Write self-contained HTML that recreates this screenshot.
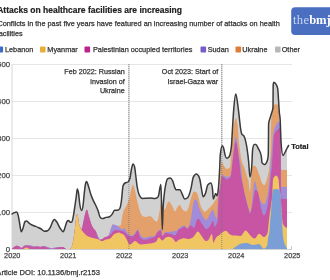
<!DOCTYPE html>
<html><head><meta charset="utf-8"><style>
html,body{margin:0;padding:0;background:#fff;width:330px;height:280px;overflow:hidden}
svg{display:block;will-change:transform}
</style></head><body>
<svg width="330" height="280" viewBox="0 0 330 280">
<line x1="12" y1="212.5" x2="292" y2="212.5" stroke="#e6e6e6" stroke-width="1"/>
<line x1="12" y1="175.5" x2="292" y2="175.5" stroke="#e6e6e6" stroke-width="1"/>
<line x1="12" y1="138.5" x2="292" y2="138.5" stroke="#e6e6e6" stroke-width="1"/>
<line x1="12" y1="101.5" x2="292" y2="101.5" stroke="#e6e6e6" stroke-width="1"/>
<line x1="12" y1="64.5" x2="292" y2="64.5" stroke="#e6e6e6" stroke-width="1"/>
<line x1="12" y1="64" x2="12" y2="249.5" stroke="#d6d6d6" stroke-width="1"/>
<line x1="128.9" y1="64" x2="128.9" y2="249.5" stroke="#d4d4d4" stroke-width="1.2"/>
<line x1="221.8" y1="64" x2="221.8" y2="249.5" stroke="#d4d4d4" stroke-width="1.2"/>
<path d="M12.00,214.00C12.77,213.47 13.53,212.95 14.30,212.60C15.07,212.25 15.83,211.90 16.60,211.90C17.07,211.90 17.53,212.98 18.00,214.60C18.53,216.46 19.07,220.19 19.60,223.00C20.15,225.89 20.70,231.70 21.25,231.70C21.80,231.70 22.35,229.90 22.90,228.50C23.60,226.71 24.30,221.94 25.00,221.50C25.53,221.17 26.07,221.00 26.60,221.00C27.50,221.00 28.40,222.72 29.30,223.40C30.37,224.20 31.43,224.80 32.50,225.30C33.57,225.80 34.63,225.98 35.70,226.40C36.47,226.70 37.23,227.05 38.00,227.40C39.07,227.89 40.13,228.37 41.20,229.00C42.27,229.63 43.33,231.20 44.40,231.20C45.47,231.20 46.53,231.03 47.60,230.70C48.50,230.42 49.40,229.11 50.30,227.40C51.03,226.01 51.77,223.39 52.50,222.00C53.10,220.86 53.70,219.40 54.30,219.40C55.13,219.40 55.97,220.83 56.80,222.00C57.87,223.50 58.93,226.38 60.00,228.00C61.07,229.62 62.13,231.70 63.20,231.70C63.90,231.70 64.60,228.41 65.30,226.50C65.87,224.95 66.43,222.26 67.00,221.50C67.50,220.83 68.00,220.50 68.50,220.50C69.10,220.50 69.70,222.30 70.30,222.30C70.83,222.30 71.37,222.13 71.90,221.80C72.43,221.47 72.97,218.27 73.50,215.40C74.03,212.53 74.57,208.22 75.10,204.60C75.47,202.11 75.83,199.70 76.20,197.10C76.57,194.50 76.93,189.00 77.30,189.00C77.70,189.00 78.10,190.70 78.50,193.00C78.97,195.68 79.43,202.14 79.90,205.00C80.47,208.48 81.03,210.40 81.60,210.40C82.10,210.40 82.60,208.58 83.10,205.00C83.50,202.14 83.90,196.56 84.30,193.00C84.63,190.03 84.97,186.90 85.30,185.00C85.70,182.72 86.10,181.50 86.50,181.50C87.20,181.50 87.90,184.63 88.60,186.70C89.30,188.77 90.00,191.79 90.70,193.90C91.43,196.11 92.17,197.88 92.90,199.60C93.83,201.79 94.77,203.28 95.70,205.30C96.43,206.89 97.17,208.39 97.90,210.30C98.70,212.38 99.50,216.49 100.30,217.40C101.00,218.20 101.70,218.60 102.40,218.60C103.60,218.60 104.80,217.72 106.00,217.40C107.20,217.08 108.40,217.17 109.60,216.70C110.53,216.34 111.47,215.17 112.40,213.90C113.13,212.91 113.87,210.30 114.60,210.30C115.53,210.30 116.47,210.30 117.40,210.30C118.13,210.30 118.87,209.83 119.60,208.90C120.20,208.14 120.80,205.22 121.40,201.00C121.93,197.25 122.47,187.60 123.00,186.00C123.67,184.00 124.33,183.44 125.00,183.00C126.00,182.33 127.00,182.67 128.00,182.00C128.67,181.56 129.33,180.67 130.00,178.00C130.57,175.73 131.13,170.43 131.70,168.00C132.13,166.14 132.57,164.00 133.00,164.00C133.53,164.00 134.07,165.00 134.60,167.00C135.00,168.50 135.40,172.93 135.80,176.00C136.27,179.58 136.73,184.09 137.20,187.00C137.90,191.37 138.60,193.47 139.30,195.00C140.37,197.33 141.43,198.50 142.50,198.50C143.67,198.50 144.83,198.38 146.00,198.30C147.33,198.21 148.67,198.00 150.00,198.00C151.63,198.00 153.27,198.50 154.90,198.50C155.70,198.50 156.50,198.23 157.30,197.70C157.73,197.41 158.17,196.97 158.60,195.50C158.97,194.26 159.33,190.80 159.70,189.00C160.10,187.03 160.50,184.40 160.90,184.40C161.13,184.40 161.37,197.48 161.60,205.00C161.83,212.52 162.07,229.50 162.30,229.50C162.53,229.50 162.77,215.20 163.00,210.00C163.40,201.08 163.80,198.77 164.20,194.70C164.77,188.93 165.33,186.25 165.90,183.60C166.43,181.10 166.97,179.30 167.50,178.90C168.40,178.23 169.30,177.90 170.20,177.90C171.00,177.90 171.80,178.98 172.60,180.70C173.37,182.35 174.13,186.14 174.90,187.80C175.27,188.59 175.63,189.70 176.00,189.70C177.30,189.70 178.60,189.70 179.90,189.70C180.70,189.70 181.50,192.80 182.30,194.40C183.07,195.93 183.83,199.10 184.60,199.10C185.67,199.10 186.73,198.57 187.80,197.50C188.83,196.47 189.87,193.01 190.90,188.90C191.70,185.71 192.50,178.75 193.30,177.10C194.33,174.97 195.37,173.90 196.40,173.90C197.20,173.90 198.00,174.70 198.80,176.30C199.20,177.10 199.60,178.26 200.00,180.00C200.50,182.18 201.00,186.19 201.50,188.90C202.03,191.79 202.57,196.70 203.10,196.70C203.87,196.70 204.63,195.49 205.40,193.60C206.20,191.63 207.00,185.93 207.80,184.90C208.83,183.57 209.87,182.90 210.90,182.90C211.43,182.90 211.97,184.90 212.50,188.90C212.77,190.90 213.03,199.10 213.30,199.10C214.10,199.10 214.90,193.60 215.70,193.60C216.20,193.60 216.70,195.90 217.20,195.90C217.47,195.90 217.73,194.09 218.00,192.00C218.53,187.82 219.07,180.55 219.60,170.00C219.83,165.38 220.07,156.31 220.30,154.30C220.97,148.57 221.63,145.70 222.30,145.70C222.73,145.70 223.17,146.64 223.60,148.00C224.10,149.57 224.60,153.41 225.10,155.10C225.63,156.90 226.17,158.20 226.70,158.20C227.50,158.20 228.30,157.70 229.10,156.70C229.87,155.74 230.63,153.27 231.40,146.40C231.73,143.41 232.07,135.36 232.40,130.00C232.83,123.03 233.27,115.04 233.70,109.60C234.40,100.81 235.10,93.90 235.80,93.90C236.47,93.90 237.13,100.15 237.80,104.90C238.30,108.46 238.80,113.09 239.30,117.40C239.70,120.84 240.10,125.25 240.50,128.00C240.90,130.75 241.30,133.10 241.70,133.90C242.47,135.43 243.23,134.67 244.00,136.20C244.53,137.27 245.07,138.67 245.60,140.90C246.13,143.13 246.67,145.88 247.20,149.60C247.70,153.08 248.20,156.91 248.70,162.20C249.10,166.43 249.50,177.00 249.90,177.00C250.53,177.00 251.17,173.23 251.80,165.70C252.07,162.53 252.33,151.73 252.60,149.90C253.13,146.23 253.67,144.40 254.20,144.40C254.73,144.40 255.27,144.40 255.80,144.40C256.60,144.40 257.40,146.68 258.20,148.30C259.23,150.40 260.27,150.93 261.30,156.20C261.53,157.39 261.77,162.24 262.00,162.60C262.87,163.93 263.73,164.60 264.60,164.60C265.57,164.60 266.53,163.07 267.50,160.00C267.77,159.15 268.03,158.00 268.30,154.00C268.37,153.00 268.43,142.04 268.50,135.00C268.53,131.48 268.57,124.16 268.60,123.90C269.13,119.70 269.67,119.49 270.20,117.60C270.60,116.18 271.00,115.12 271.40,113.70C271.93,111.81 272.47,111.60 273.00,107.40C273.05,107.01 273.10,85.88 273.15,85.40C273.37,83.33 273.58,82.30 273.80,82.30C274.60,82.30 275.40,83.07 276.20,84.60C276.70,85.56 277.20,85.93 277.70,88.60C277.97,90.02 278.23,95.67 278.50,99.60C278.77,103.53 279.03,108.89 279.30,112.20C279.60,115.92 279.90,114.80 280.20,120.00C280.33,122.31 280.47,127.54 280.60,131.00C280.77,135.32 280.93,140.81 281.10,143.00C281.73,151.33 282.37,155.50 283.00,155.50C283.73,155.50 284.47,153.76 285.20,152.00C285.80,150.56 286.40,148.53 287.00,146.50L287.00,249.5L12.00,249.5Z" fill="#d1d1d1"/>
<path d="M12.00,248.40C12.70,247.90 13.40,247.40 14.10,247.00C15.00,246.49 15.90,245.80 16.80,245.80C17.57,245.80 18.33,246.15 19.10,246.50C19.87,246.85 20.63,247.90 21.40,247.90C22.13,247.90 22.87,246.47 23.60,246.00C24.53,245.40 25.47,245.00 26.40,245.00C27.60,245.00 28.80,245.10 30.00,245.30C31.20,245.50 32.40,246.30 33.60,246.30C34.83,246.30 36.07,246.00 37.30,246.00C38.20,246.00 39.10,246.80 40.00,246.80C41.20,246.80 42.40,246.00 43.60,246.00C44.83,246.00 46.07,246.66 47.30,247.00C48.50,247.33 49.70,248.00 50.90,248.00C51.93,248.00 52.97,247.92 54.00,247.80C55.40,247.63 56.80,247.06 58.20,247.00C59.70,246.93 61.20,246.90 62.70,246.90C63.93,246.90 65.17,249.00 66.40,249.00C67.57,249.00 68.73,248.97 69.90,248.90C70.70,248.85 71.50,247.60 72.30,245.00C73.07,242.51 73.83,237.45 74.60,231.60C75.13,227.53 75.67,220.22 76.20,217.40C76.57,215.46 76.93,214.30 77.30,214.30C78.00,214.30 78.70,223.05 79.40,225.30C80.17,227.77 80.93,229.00 81.70,229.00C82.23,229.00 82.77,224.48 83.30,222.20C84.10,218.79 84.90,214.13 85.70,211.90C86.07,210.88 86.43,209.60 86.80,209.60C87.47,209.60 88.13,213.77 88.80,215.90C89.60,218.46 90.40,221.59 91.20,223.70C91.97,225.72 92.73,227.11 93.50,228.40C94.33,229.80 95.17,230.36 96.00,231.60C97.43,233.73 98.87,239.50 100.30,239.50C101.33,239.50 102.37,239.14 103.40,238.70C105.23,237.92 107.07,237.37 108.90,234.70C110.23,232.76 111.57,224.50 112.90,224.50C114.47,224.50 116.03,226.10 117.60,226.10C118.63,226.10 119.67,225.83 120.70,225.30C121.23,225.02 121.77,218.59 122.30,215.90C122.57,214.56 122.83,213.25 123.10,212.20C124.17,208.00 125.23,208.31 126.30,205.90C127.33,203.56 128.37,201.82 129.40,198.00C130.20,195.04 131.00,189.35 131.80,187.00C132.17,185.92 132.53,184.60 132.90,184.60C133.57,184.60 134.23,187.79 134.90,190.20C135.70,193.09 136.50,197.80 137.30,201.20C138.10,204.60 138.90,208.19 139.70,210.60C140.60,213.31 141.50,215.47 142.40,216.00C143.53,216.67 144.67,217.00 145.80,217.00C147.20,217.00 148.60,216.00 150.00,216.00C150.37,216.00 150.73,216.36 151.10,216.60C152.43,217.49 153.77,220.19 155.10,221.00C155.73,221.38 156.37,221.70 157.00,221.70C157.63,221.70 158.27,218.22 158.90,215.00C159.33,212.80 159.77,209.54 160.20,207.00C160.43,205.63 160.67,203.00 160.90,203.00C161.10,203.00 161.30,211.21 161.50,215.00C161.77,220.05 162.03,229.00 162.30,229.00C162.53,229.00 162.77,218.44 163.00,215.00C163.27,211.07 163.53,208.00 163.80,208.00C164.17,208.00 164.53,209.70 164.90,209.70C165.73,209.70 166.57,204.07 167.40,202.90C168.07,201.97 168.73,201.50 169.40,201.50C169.80,201.50 170.20,202.84 170.60,203.50C171.27,204.59 171.93,205.50 172.60,206.70C173.37,208.08 174.13,211.40 174.90,211.40C175.70,211.40 176.50,208.45 177.30,207.40C178.10,206.35 178.90,205.10 179.70,205.10C180.73,205.10 181.77,208.75 182.80,209.80C183.83,210.85 184.87,211.40 185.90,211.40C186.60,211.40 187.30,210.54 188.00,209.00C188.90,207.02 189.80,202.14 190.70,199.40C191.77,196.15 192.83,191.60 193.90,191.60C194.77,191.60 195.63,191.90 196.50,192.50C197.00,192.85 197.50,194.64 198.00,196.00C199.00,198.72 200.00,203.94 201.00,206.50C202.23,209.66 203.47,211.70 204.70,211.70C205.97,211.70 207.23,209.84 208.50,208.70C209.73,207.59 210.97,206.57 212.20,205.00C213.20,203.72 214.20,201.93 215.20,200.50C215.80,199.64 216.40,199.03 217.00,198.00C217.50,197.14 218.00,197.00 218.50,195.00C218.87,193.53 219.23,192.57 219.60,187.70C219.90,183.72 220.20,173.20 220.50,170.00C221.00,164.67 221.50,162.00 222.00,162.00C222.67,162.00 223.33,164.92 224.00,166.00C224.90,167.46 225.80,169.00 226.70,169.00C227.77,169.00 228.83,168.53 229.90,167.60C230.40,167.16 230.90,156.41 231.40,151.00C232.20,142.35 233.00,131.43 233.80,126.00C234.57,120.80 235.33,118.20 236.10,118.20C236.63,118.20 237.17,121.55 237.70,126.00C238.23,130.45 238.77,139.71 239.30,144.90C240.03,152.03 240.77,156.27 241.50,160.00C242.50,165.09 243.50,164.97 244.50,168.00C245.37,170.63 246.23,173.92 247.10,176.70C247.60,178.31 248.10,178.55 248.60,181.40C249.03,183.87 249.47,191.70 249.90,191.70C250.53,191.70 251.17,168.94 251.80,168.00C252.83,166.47 253.87,165.70 254.90,165.70C256.23,165.70 257.57,170.17 258.90,173.60C259.93,176.26 260.97,181.15 262.00,183.00C262.73,184.31 263.47,185.00 264.20,185.00C265.30,185.00 266.40,181.32 267.50,176.70C268.23,173.62 268.97,172.80 269.70,165.00C269.97,162.16 270.23,160.00 270.50,150.00C270.67,143.75 270.83,130.00 271.00,125.00C271.20,119.00 271.40,118.51 271.60,116.00C271.90,112.23 272.20,109.57 272.50,108.00C272.93,105.73 273.37,104.60 273.80,104.60C275.10,104.60 276.40,104.60 277.70,104.60C277.97,104.60 278.23,104.90 278.50,105.50C278.67,105.88 278.83,107.67 279.00,112.00C279.10,114.60 279.20,136.67 279.30,140.00C279.60,150.00 279.90,150.07 280.20,155.00C280.47,159.39 280.73,165.87 281.00,168.00C281.17,169.33 281.33,170.00 281.50,170.00C283.33,170.00 285.17,170.00 287.00,170.00L287.00,249.5L12.00,249.5Z" fill="#e4a06b"/>
<path d="M12.00,248.40C12.70,247.90 13.40,247.40 14.10,247.00C15.00,246.49 15.90,245.80 16.80,245.80C17.57,245.80 18.33,246.15 19.10,246.50C19.87,246.85 20.63,247.90 21.40,247.90C22.13,247.90 22.87,246.47 23.60,246.00C24.53,245.40 25.47,245.00 26.40,245.00C27.60,245.00 28.80,245.10 30.00,245.30C31.20,245.50 32.40,246.30 33.60,246.30C34.83,246.30 36.07,246.00 37.30,246.00C38.20,246.00 39.10,246.80 40.00,246.80C41.20,246.80 42.40,246.00 43.60,246.00C44.83,246.00 46.07,246.66 47.30,247.00C48.50,247.33 49.70,248.00 50.90,248.00C51.93,248.00 52.97,247.92 54.00,247.80C55.40,247.63 56.80,247.06 58.20,247.00C59.70,246.93 61.20,246.90 62.70,246.90C63.93,246.90 65.17,249.00 66.40,249.00C67.57,249.00 68.73,248.97 69.90,248.90C70.70,248.85 71.50,247.60 72.30,245.00C73.07,242.51 73.83,237.45 74.60,231.60C75.13,227.53 75.67,220.22 76.20,217.40C76.57,215.46 76.93,214.30 77.30,214.30C78.00,214.30 78.70,223.05 79.40,225.30C80.17,227.77 80.93,229.00 81.70,229.00C82.23,229.00 82.77,224.48 83.30,222.20C84.10,218.79 84.90,214.13 85.70,211.90C86.07,210.88 86.43,209.60 86.80,209.60C87.47,209.60 88.13,213.77 88.80,215.90C89.60,218.46 90.40,221.59 91.20,223.70C91.97,225.72 92.73,227.11 93.50,228.40C94.33,229.80 95.17,230.36 96.00,231.60C97.43,233.73 98.87,239.50 100.30,239.50C101.33,239.50 102.37,239.14 103.40,238.70C105.23,237.92 107.07,237.37 108.90,234.70C110.23,232.76 111.57,224.50 112.90,224.50C114.47,224.50 116.03,225.18 117.60,226.10C118.90,226.87 120.20,229.20 121.50,229.20C122.37,229.20 123.23,228.20 124.10,228.20C125.43,228.20 126.77,232.45 128.10,233.70C129.47,234.98 130.83,235.70 132.20,235.70C133.10,235.70 134.00,234.02 134.90,233.00C135.80,231.98 136.70,229.60 137.60,229.60C138.53,229.60 139.47,233.74 140.40,235.00C141.73,236.80 143.07,237.70 144.40,237.70C146.27,237.70 148.13,236.49 150.00,236.40C151.43,236.33 152.87,236.37 154.30,236.30C155.23,236.26 156.17,233.09 157.10,232.00C158.27,230.63 159.43,230.25 160.60,229.50C160.87,229.33 161.13,229.00 161.40,229.00C161.70,229.00 162.00,235.50 162.30,235.50C163.43,235.50 164.57,232.00 165.70,232.00C166.63,232.00 167.57,232.00 168.50,232.00C169.53,232.00 170.57,231.76 171.60,231.60C173.07,231.38 174.53,231.33 176.00,230.80C177.23,230.35 178.47,228.63 179.70,227.80C181.20,226.79 182.70,225.50 184.20,225.50C185.20,225.50 186.20,227.80 187.20,227.80C187.97,227.80 188.73,226.87 189.50,225.00C190.17,223.38 190.83,218.97 191.50,215.00C192.00,212.02 192.50,207.57 193.00,205.00C193.50,202.43 194.00,199.60 194.50,199.60C195.17,199.60 195.83,199.67 196.50,199.80C197.17,199.93 197.83,204.09 198.50,206.00C199.83,209.81 201.17,213.14 202.50,215.50C203.73,217.69 204.97,220.00 206.20,220.00C207.47,220.00 208.73,215.94 210.00,214.00C211.00,212.47 212.00,209.50 213.00,209.50C213.50,209.50 214.00,212.69 214.50,214.00C215.23,215.92 215.97,218.50 216.70,218.50C217.20,218.50 217.70,203.88 218.20,199.40C218.63,195.52 219.07,194.65 219.50,192.00C220.33,186.90 221.17,174.60 222.00,174.60C223.57,174.60 225.13,177.00 226.70,177.00C227.77,177.00 228.83,176.73 229.90,176.20C230.40,175.95 230.90,174.13 231.40,170.70C231.93,167.05 232.47,158.98 233.00,154.30C233.93,146.12 234.87,137.00 235.80,137.00C236.97,137.00 238.13,150.59 239.30,157.40C239.73,159.93 240.17,161.87 240.60,165.00C241.20,169.33 241.80,176.91 242.40,181.40C243.30,188.13 244.20,190.95 245.10,195.00C246.17,199.81 247.23,203.98 248.30,207.40C248.83,209.11 249.37,212.00 249.90,212.00C250.40,212.00 250.90,210.11 251.40,207.40C252.20,203.07 253.00,189.80 253.80,185.40C254.20,183.20 254.60,181.00 255.00,181.00C255.40,181.00 255.80,183.96 256.20,185.40C257.77,191.05 259.33,198.16 260.90,201.20C261.93,203.20 262.97,204.30 264.00,204.30C265.07,204.30 266.13,201.67 267.20,196.40C267.97,192.61 268.73,186.81 269.50,178.00C269.83,174.17 270.17,169.12 270.50,165.00C270.93,159.64 271.37,155.28 271.80,150.00C272.17,145.53 272.53,139.33 272.90,136.00C273.20,133.27 273.50,131.88 273.80,130.50C274.60,126.83 275.40,126.42 276.20,125.00C277.20,123.22 278.20,121.60 279.20,121.60C279.53,121.60 279.87,122.73 280.20,125.00C280.40,126.36 280.60,130.00 280.80,140.00C280.93,146.67 281.07,185.56 281.20,186.00C281.40,186.67 281.60,187.00 281.80,187.00C283.53,187.00 285.27,187.00 287.00,187.00L287.00,249.5L12.00,249.5Z" fill="#a18cda"/>
<path d="M12.00,248.40C12.70,247.90 13.40,247.40 14.10,247.00C15.00,246.49 15.90,245.80 16.80,245.80C17.57,245.80 18.33,246.15 19.10,246.50C19.87,246.85 20.63,247.90 21.40,247.90C22.13,247.90 22.87,246.87 23.60,246.50C24.53,246.04 25.47,245.60 26.40,245.60C27.60,245.60 28.80,245.87 30.00,246.10C31.20,246.33 32.40,247.00 33.60,247.00C34.83,247.00 36.07,246.50 37.30,246.50C38.20,246.50 39.10,247.10 40.00,247.10C41.20,247.10 42.40,246.20 43.60,246.20C44.83,246.20 46.07,247.04 47.30,247.50C48.50,247.94 49.70,248.90 50.90,248.90C51.93,248.90 52.97,248.68 54.00,248.50C55.40,248.25 56.80,247.73 58.20,247.50C59.70,247.25 61.20,247.10 62.70,247.10C63.93,247.10 65.17,249.00 66.40,249.00C67.57,249.00 68.73,248.97 69.90,248.90C70.70,248.85 71.50,247.60 72.30,245.00C73.07,242.51 73.83,237.45 74.60,231.60C75.13,227.53 75.67,220.22 76.20,217.40C76.57,215.46 76.93,214.30 77.30,214.30C78.00,214.30 78.70,223.05 79.40,225.30C80.17,227.77 80.93,229.00 81.70,229.00C82.23,229.00 82.77,224.48 83.30,222.20C84.10,218.79 84.90,214.13 85.70,211.90C86.07,210.88 86.43,209.60 86.80,209.60C87.47,209.60 88.13,213.77 88.80,215.90C89.60,218.46 90.40,221.59 91.20,223.70C91.97,225.72 92.73,227.11 93.50,228.40C94.33,229.80 95.17,229.47 96.00,231.60C96.37,232.54 96.73,235.45 97.10,236.30C98.17,238.77 99.23,240.00 100.30,240.00C101.87,240.00 103.43,237.85 105.00,237.10C106.57,236.35 108.13,236.57 109.70,235.50C110.77,234.77 111.83,232.52 112.90,231.60C113.93,230.71 114.97,230.00 116.00,230.00C117.33,230.00 118.67,230.24 120.00,230.50C121.37,230.77 122.73,230.87 124.10,231.60C125.43,232.32 126.77,235.24 128.10,235.70C129.47,236.17 130.83,236.40 132.20,236.40C133.33,236.40 134.47,235.25 135.60,233.70C136.27,232.79 136.93,230.30 137.60,230.30C138.53,230.30 139.47,236.72 140.40,237.70C141.73,239.10 143.07,239.80 144.40,239.80C146.27,239.80 148.13,238.92 150.00,238.40C151.43,238.00 152.87,237.97 154.30,237.10C155.23,236.54 156.17,233.99 157.10,232.90C158.27,231.54 159.43,230.30 160.60,230.30C161.17,230.30 161.73,236.30 162.30,236.30C163.43,236.30 164.57,232.90 165.70,232.90C166.63,232.90 167.57,233.29 168.50,233.50C169.63,233.75 170.77,233.94 171.90,234.30C172.93,234.63 173.97,235.50 175.00,235.50C176.30,235.50 177.60,230.84 178.90,229.60C179.97,228.58 181.03,228.67 182.10,228.00C182.80,227.56 183.50,226.50 184.20,226.50C185.20,226.50 186.20,228.80 187.20,228.80C188.47,228.80 189.73,225.20 191.00,225.20C192.00,225.20 193.00,228.00 194.00,228.00C195.00,228.00 196.00,221.03 197.00,219.80C197.43,219.27 197.87,219.00 198.30,219.00C199.70,219.00 201.10,222.74 202.50,224.50C203.73,226.05 204.97,229.00 206.20,229.00C207.47,229.00 208.73,227.69 210.00,226.00C211.00,224.66 212.00,220.70 213.00,220.70C213.50,220.70 214.00,227.00 214.50,227.00C215.23,227.00 215.97,225.27 216.70,223.70C217.07,222.92 217.43,222.80 217.80,221.00C217.93,220.35 218.07,209.09 218.20,205.00C218.40,198.87 218.60,197.33 218.80,195.00C219.33,188.80 219.87,188.83 220.40,185.70C220.93,182.57 221.47,176.20 222.00,176.20C223.57,176.20 225.13,179.40 226.70,179.40C228.00,179.40 229.30,178.60 230.60,177.00C231.40,176.02 232.20,164.51 233.00,159.00C233.93,152.57 234.87,141.70 235.80,141.70C236.97,141.70 238.13,153.15 239.30,162.20C239.83,166.34 240.37,172.49 240.90,176.00C241.40,179.29 241.90,180.64 242.40,183.00C243.30,187.25 244.20,192.04 245.10,196.00C246.17,200.69 247.23,204.89 248.30,208.50C248.83,210.31 249.37,213.50 249.90,213.50C250.40,213.50 250.90,211.96 251.40,210.00C251.93,207.91 252.47,203.75 253.00,201.00C253.83,196.71 254.67,190.00 255.50,190.00C256.23,190.00 256.97,190.57 257.70,191.70C258.77,193.35 259.83,203.44 260.90,207.40C261.93,211.23 262.97,215.30 264.00,215.30C265.07,215.30 266.13,212.67 267.20,207.40C267.97,203.61 268.73,197.53 269.50,190.00C269.87,186.40 270.23,181.74 270.60,178.00C271.07,173.24 271.53,171.19 272.00,165.00C272.40,159.70 272.80,150.78 273.20,145.00C273.40,142.11 273.60,138.69 273.80,137.00C274.10,134.47 274.40,133.89 274.70,133.20C275.63,131.07 276.57,130.94 277.50,130.00C278.33,129.16 279.17,127.80 280.00,127.80C280.27,127.80 280.53,131.87 280.80,140.00C280.87,142.03 280.93,188.50 281.00,190.00C281.27,196.00 281.53,199.00 281.80,199.00C283.53,199.00 285.27,199.00 287.00,199.00L287.00,249.5L12.00,249.5Z" fill="#c854a4"/>
<path d="M12.00,249.50C15.33,249.50 18.67,249.50 22.00,249.50C23.47,249.50 24.93,247.50 26.40,247.50C27.93,247.50 29.47,249.50 31.00,249.50C43.67,249.50 56.33,249.50 69.00,249.50C70.10,249.50 71.20,248.00 72.30,245.00C73.07,242.91 73.83,237.45 74.60,231.60C75.13,227.53 75.67,220.22 76.20,217.40C76.57,215.46 76.93,214.30 77.30,214.30C78.00,214.30 78.70,222.70 79.40,225.30C80.17,228.15 80.93,228.70 81.70,230.00C82.77,231.81 83.83,232.83 84.90,233.90C86.47,235.47 88.03,236.32 89.60,237.10C91.73,238.16 93.87,238.15 96.00,238.70C96.90,238.93 97.80,239.07 98.70,239.40C99.77,239.79 100.83,241.00 101.90,241.00C103.20,241.00 104.50,239.78 105.80,239.40C107.10,239.02 108.40,239.17 109.70,238.70C111.27,238.14 112.83,234.88 114.40,233.90C116.00,232.90 117.60,232.40 119.20,232.40C119.80,232.40 120.40,233.16 121.00,233.50C122.03,234.08 123.07,234.00 124.10,235.00C125.00,235.87 125.90,238.22 126.80,239.80C127.70,241.38 128.60,244.50 129.50,244.50C130.40,244.50 131.30,243.77 132.20,243.20C133.10,242.63 134.00,241.10 134.90,241.10C136.73,241.10 138.57,244.50 140.40,244.50C142.20,244.50 144.00,244.08 145.80,243.90C147.20,243.76 148.60,243.75 150.00,243.50C151.97,243.15 153.93,242.93 155.90,241.80C156.90,241.22 157.90,237.50 158.90,237.50C160.03,237.50 161.17,240.50 162.30,240.50C163.20,240.50 164.10,238.62 165.00,238.00C166.23,237.16 167.47,236.70 168.70,236.70C170.27,236.70 171.83,237.47 173.40,239.00C174.20,239.78 175.00,242.00 175.80,242.00C176.83,242.00 177.87,240.38 178.90,239.80C180.73,238.78 182.57,238.20 184.40,238.20C186.00,238.20 187.60,239.00 189.20,239.00C190.57,239.00 191.93,238.18 193.30,237.10C194.87,235.86 196.43,231.60 198.00,231.60C199.07,231.60 200.13,234.23 201.20,235.50C202.80,237.40 204.40,241.00 206.00,241.00C206.90,241.00 207.80,240.40 208.70,239.40C209.77,238.22 210.83,233.90 211.90,233.90C212.40,233.90 212.90,242.60 213.40,242.60C214.20,242.60 215.00,239.12 215.80,237.90C217.10,235.92 218.40,235.74 219.70,234.70C221.03,233.64 222.37,232.27 223.70,231.60C224.47,231.21 225.23,230.80 226.00,230.80C227.07,230.80 228.13,233.19 229.20,233.90C230.80,234.97 232.40,235.50 234.00,235.50C234.67,235.50 235.33,235.40 236.00,235.40C237.60,235.40 239.20,235.90 240.80,235.90C242.40,235.90 244.00,230.60 245.60,230.60C247.03,230.60 248.47,233.63 249.90,234.90C251.53,236.35 253.17,238.60 254.80,238.60C256.20,238.60 257.60,233.80 259.00,233.80C260.63,233.80 262.27,237.00 263.90,237.00C265.13,237.00 266.37,235.57 267.60,232.70C267.90,232.00 268.20,227.64 268.50,225.00C268.87,221.77 269.23,218.02 269.60,215.00C270.07,211.16 270.53,208.65 271.00,205.00C271.43,201.61 271.87,200.92 272.30,194.00C272.53,190.28 272.77,181.45 273.00,180.00C273.30,178.13 273.60,177.62 273.90,177.20C274.67,176.13 275.43,175.60 276.20,175.60C277.00,175.60 277.80,176.90 278.60,179.50C278.87,180.37 279.13,186.57 279.40,189.00C279.80,192.65 280.20,191.00 280.60,195.00C281.00,199.00 281.40,209.17 281.80,214.00C282.20,218.83 282.60,223.20 283.00,224.00C284.33,226.67 285.67,227.33 287.00,228.00L287.00,249.5L12.00,249.5Z" fill="#efc662"/>
<path d="M12.00,249.50C84.67,249.50 157.33,249.50 230.00,249.50C230.67,249.50 231.33,249.43 232.00,249.30C233.33,249.03 234.67,247.45 236.00,246.60C237.80,245.45 239.60,243.74 241.40,243.40C243.17,243.07 244.93,242.90 246.70,242.90C248.83,242.90 250.97,245.00 253.10,245.00C255.07,245.00 257.03,244.00 259.00,244.00C260.63,244.00 262.27,248.80 263.90,248.80C264.97,248.80 266.03,247.73 267.10,245.60C267.47,244.87 267.83,240.31 268.20,238.00C268.67,235.07 269.13,235.43 269.60,230.30C269.80,228.10 270.00,223.40 270.20,220.80C270.43,217.76 270.67,216.62 270.90,214.00C271.37,208.76 271.83,197.50 272.30,194.00C272.70,191.00 273.10,189.66 273.50,189.50C274.33,189.17 275.17,189.00 276.00,189.00C277.13,189.00 278.27,189.17 279.40,189.50C279.80,189.62 280.20,191.00 280.60,194.00C280.97,196.75 281.33,208.27 281.70,214.70C282.17,222.89 282.63,233.36 283.10,237.00C283.80,242.47 284.50,243.37 285.20,245.20C285.80,246.77 286.40,247.33 287.00,247.90L287.00,249.5L12.00,249.5Z" fill="#7a9ed5"/>
<line x1="12" y1="249.5" x2="292" y2="249.5" stroke="#cfcfcf" stroke-width="1"/>
<line x1="291.5" y1="246" x2="291.5" y2="250" stroke="#cfcfcf" stroke-width="1"/>
<line x1="128.9" y1="64" x2="128.9" y2="249.5" stroke="#707070" stroke-width="1" stroke-dasharray="1 1" stroke-opacity="0.75"/>
<line x1="221.8" y1="64" x2="221.8" y2="249.5" stroke="#707070" stroke-width="1" stroke-dasharray="1 1" stroke-opacity="0.75"/>
<path d="M12.00,214.00C12.77,213.47 13.53,212.95 14.30,212.60C15.07,212.25 15.83,211.90 16.60,211.90C17.07,211.90 17.53,212.98 18.00,214.60C18.53,216.46 19.07,220.19 19.60,223.00C20.15,225.89 20.70,231.70 21.25,231.70C21.80,231.70 22.35,229.90 22.90,228.50C23.60,226.71 24.30,221.94 25.00,221.50C25.53,221.17 26.07,221.00 26.60,221.00C27.50,221.00 28.40,222.72 29.30,223.40C30.37,224.20 31.43,224.80 32.50,225.30C33.57,225.80 34.63,225.98 35.70,226.40C36.47,226.70 37.23,227.05 38.00,227.40C39.07,227.89 40.13,228.37 41.20,229.00C42.27,229.63 43.33,231.20 44.40,231.20C45.47,231.20 46.53,231.03 47.60,230.70C48.50,230.42 49.40,229.11 50.30,227.40C51.03,226.01 51.77,223.39 52.50,222.00C53.10,220.86 53.70,219.40 54.30,219.40C55.13,219.40 55.97,220.83 56.80,222.00C57.87,223.50 58.93,226.38 60.00,228.00C61.07,229.62 62.13,231.70 63.20,231.70C63.90,231.70 64.60,228.41 65.30,226.50C65.87,224.95 66.43,222.26 67.00,221.50C67.50,220.83 68.00,220.50 68.50,220.50C69.10,220.50 69.70,222.30 70.30,222.30C70.83,222.30 71.37,222.13 71.90,221.80C72.43,221.47 72.97,218.27 73.50,215.40C74.03,212.53 74.57,208.22 75.10,204.60C75.47,202.11 75.83,199.70 76.20,197.10C76.57,194.50 76.93,189.00 77.30,189.00C77.70,189.00 78.10,190.70 78.50,193.00C78.97,195.68 79.43,202.14 79.90,205.00C80.47,208.48 81.03,210.40 81.60,210.40C82.10,210.40 82.60,208.58 83.10,205.00C83.50,202.14 83.90,196.56 84.30,193.00C84.63,190.03 84.97,186.90 85.30,185.00C85.70,182.72 86.10,181.50 86.50,181.50C87.20,181.50 87.90,184.63 88.60,186.70C89.30,188.77 90.00,191.79 90.70,193.90C91.43,196.11 92.17,197.88 92.90,199.60C93.83,201.79 94.77,203.28 95.70,205.30C96.43,206.89 97.17,208.39 97.90,210.30C98.70,212.38 99.50,216.49 100.30,217.40C101.00,218.20 101.70,218.60 102.40,218.60C103.60,218.60 104.80,217.72 106.00,217.40C107.20,217.08 108.40,217.17 109.60,216.70C110.53,216.34 111.47,215.17 112.40,213.90C113.13,212.91 113.87,210.30 114.60,210.30C115.53,210.30 116.47,210.30 117.40,210.30C118.13,210.30 118.87,209.83 119.60,208.90C120.20,208.14 120.80,205.22 121.40,201.00C121.93,197.25 122.47,187.60 123.00,186.00C123.67,184.00 124.33,183.44 125.00,183.00C126.00,182.33 127.00,182.67 128.00,182.00C128.67,181.56 129.33,180.67 130.00,178.00C130.57,175.73 131.13,170.43 131.70,168.00C132.13,166.14 132.57,164.00 133.00,164.00C133.53,164.00 134.07,165.00 134.60,167.00C135.00,168.50 135.40,172.93 135.80,176.00C136.27,179.58 136.73,184.09 137.20,187.00C137.90,191.37 138.60,193.47 139.30,195.00C140.37,197.33 141.43,198.50 142.50,198.50C143.67,198.50 144.83,198.38 146.00,198.30C147.33,198.21 148.67,198.00 150.00,198.00C151.63,198.00 153.27,198.50 154.90,198.50C155.70,198.50 156.50,198.23 157.30,197.70C157.73,197.41 158.17,196.97 158.60,195.50C158.97,194.26 159.33,190.80 159.70,189.00C160.10,187.03 160.50,184.40 160.90,184.40C161.13,184.40 161.37,197.48 161.60,205.00C161.83,212.52 162.07,229.50 162.30,229.50C162.53,229.50 162.77,215.20 163.00,210.00C163.40,201.08 163.80,198.77 164.20,194.70C164.77,188.93 165.33,186.25 165.90,183.60C166.43,181.10 166.97,179.30 167.50,178.90C168.40,178.23 169.30,177.90 170.20,177.90C171.00,177.90 171.80,178.98 172.60,180.70C173.37,182.35 174.13,186.14 174.90,187.80C175.27,188.59 175.63,189.70 176.00,189.70C177.30,189.70 178.60,189.70 179.90,189.70C180.70,189.70 181.50,192.80 182.30,194.40C183.07,195.93 183.83,199.10 184.60,199.10C185.67,199.10 186.73,198.57 187.80,197.50C188.83,196.47 189.87,193.01 190.90,188.90C191.70,185.71 192.50,178.75 193.30,177.10C194.33,174.97 195.37,173.90 196.40,173.90C197.20,173.90 198.00,174.70 198.80,176.30C199.20,177.10 199.60,178.26 200.00,180.00C200.50,182.18 201.00,186.19 201.50,188.90C202.03,191.79 202.57,196.70 203.10,196.70C203.87,196.70 204.63,195.49 205.40,193.60C206.20,191.63 207.00,185.93 207.80,184.90C208.83,183.57 209.87,182.90 210.90,182.90C211.43,182.90 211.97,184.90 212.50,188.90C212.77,190.90 213.03,199.10 213.30,199.10C214.10,199.10 214.90,193.60 215.70,193.60C216.20,193.60 216.70,195.90 217.20,195.90C217.47,195.90 217.73,194.09 218.00,192.00C218.53,187.82 219.07,180.55 219.60,170.00C219.83,165.38 220.07,156.31 220.30,154.30C220.97,148.57 221.63,145.70 222.30,145.70C222.73,145.70 223.17,146.64 223.60,148.00C224.10,149.57 224.60,153.41 225.10,155.10C225.63,156.90 226.17,158.20 226.70,158.20C227.50,158.20 228.30,157.70 229.10,156.70C229.87,155.74 230.63,153.27 231.40,146.40C231.73,143.41 232.07,135.36 232.40,130.00C232.83,123.03 233.27,115.04 233.70,109.60C234.40,100.81 235.10,93.90 235.80,93.90C236.47,93.90 237.13,100.15 237.80,104.90C238.30,108.46 238.80,113.09 239.30,117.40C239.70,120.84 240.10,125.25 240.50,128.00C240.90,130.75 241.30,133.10 241.70,133.90C242.47,135.43 243.23,134.67 244.00,136.20C244.53,137.27 245.07,138.67 245.60,140.90C246.13,143.13 246.67,145.88 247.20,149.60C247.70,153.08 248.20,156.91 248.70,162.20C249.10,166.43 249.50,177.00 249.90,177.00C250.53,177.00 251.17,173.23 251.80,165.70C252.07,162.53 252.33,151.73 252.60,149.90C253.13,146.23 253.67,144.40 254.20,144.40C254.73,144.40 255.27,144.40 255.80,144.40C256.60,144.40 257.40,146.68 258.20,148.30C259.23,150.40 260.27,150.93 261.30,156.20C261.53,157.39 261.77,162.24 262.00,162.60C262.87,163.93 263.73,164.60 264.60,164.60C265.57,164.60 266.53,163.07 267.50,160.00C267.77,159.15 268.03,158.00 268.30,154.00C268.37,153.00 268.43,142.04 268.50,135.00C268.53,131.48 268.57,124.16 268.60,123.90C269.13,119.70 269.67,119.49 270.20,117.60C270.60,116.18 271.00,115.12 271.40,113.70C271.93,111.81 272.47,111.60 273.00,107.40C273.05,107.01 273.10,85.88 273.15,85.40C273.37,83.33 273.58,82.30 273.80,82.30C274.60,82.30 275.40,83.07 276.20,84.60C276.70,85.56 277.20,85.93 277.70,88.60C277.97,90.02 278.23,95.67 278.50,99.60C278.77,103.53 279.03,108.89 279.30,112.20C279.60,115.92 279.90,114.80 280.20,120.00C280.33,122.31 280.47,127.54 280.60,131.00C280.77,135.32 280.93,140.81 281.10,143.00C281.73,151.33 282.37,155.50 283.00,155.50C283.73,155.50 284.47,153.32 285.20,152.00C285.87,150.80 286.53,149.25 287.20,148.00C287.67,147.13 288.13,146.31 288.60,145.50" fill="none" stroke="#3a3a3a" stroke-width="1.5" stroke-linejoin="round" stroke-linecap="round"/>
<rect x="-2.5" y="46.6" width="5.6" height="5.8" rx="1" fill="#3d6cc4"/>
<rect x="40" y="46.6" width="5.6" height="5.8" rx="1" fill="#e8ae3a"/>
<rect x="84.5" y="46.6" width="5.6" height="5.8" rx="1" fill="#b8238c"/>
<rect x="200.5" y="46.6" width="5.6" height="5.8" rx="1" fill="#7a5cc8"/>
<rect x="235.5" y="46.6" width="5.6" height="5.8" rx="1" fill="#e07a3c"/>
<rect x="275" y="46.6" width="5.6" height="5.8" rx="1" fill="#b8b8b8"/>
<text x="-2.8" y="13.2" font-family='"Liberation Sans", sans-serif' font-size="8.5" font-weight="bold" fill="#222" text-anchor="start" stroke="#222" stroke-width="0.2" >Attacks on healthcare facilities are increasing</text>
<text x="-2.6" y="26" font-family='"Liberation Sans", sans-serif' font-size="7.34" font-weight="normal" fill="#333" text-anchor="start" stroke="#333" stroke-width="0.25" >Conflicts in the past five years have featured an increasing number of attacks on health</text>
<text x="-3.3" y="35.6" font-family='"Liberation Sans", sans-serif' font-size="7.3" font-weight="normal" fill="#333" text-anchor="start" stroke="#333" stroke-width="0.25" >facilities</text>
<text x="5" y="52.2" font-family='"Liberation Sans", sans-serif' font-size="7.3" font-weight="normal" fill="#333" text-anchor="start" stroke="#333" stroke-width="0.25" >Lebanon</text>
<text x="47.3" y="52.2" font-family='"Liberation Sans", sans-serif' font-size="7.3" font-weight="normal" fill="#333" text-anchor="start" stroke="#333" stroke-width="0.25" >Myanmar</text>
<text x="93" y="52.2" font-family='"Liberation Sans", sans-serif' font-size="7.3" font-weight="normal" fill="#333" text-anchor="start" stroke="#333" stroke-width="0.25" >Palestinian occupied territories</text>
<text x="207.7" y="52.2" font-family='"Liberation Sans", sans-serif' font-size="7.3" font-weight="normal" fill="#333" text-anchor="start" stroke="#333" stroke-width="0.25" >Sudan</text>
<text x="242.3" y="52.2" font-family='"Liberation Sans", sans-serif' font-size="7.3" font-weight="normal" fill="#333" text-anchor="start" stroke="#333" stroke-width="0.25" >Ukraine</text>
<text x="281.7" y="52.2" font-family='"Liberation Sans", sans-serif' font-size="7.3" font-weight="normal" fill="#333" text-anchor="start" stroke="#333" stroke-width="0.25" >Other</text>
<text x="10.1" y="67.2" font-family='"Liberation Sans", sans-serif' font-size="7.8" font-weight="normal" fill="#444" text-anchor="end" stroke="#444" stroke-width="0.25" >500</text>
<text x="10.1" y="104.22000000000001" font-family='"Liberation Sans", sans-serif' font-size="7.8" font-weight="normal" fill="#444" text-anchor="end" stroke="#444" stroke-width="0.25" >400</text>
<text x="10.1" y="141.24" font-family='"Liberation Sans", sans-serif' font-size="7.8" font-weight="normal" fill="#444" text-anchor="end" stroke="#444" stroke-width="0.25" >300</text>
<text x="10.1" y="178.26000000000002" font-family='"Liberation Sans", sans-serif' font-size="7.8" font-weight="normal" fill="#444" text-anchor="end" stroke="#444" stroke-width="0.25" >200</text>
<text x="10.1" y="215.28000000000003" font-family='"Liberation Sans", sans-serif' font-size="7.8" font-weight="normal" fill="#444" text-anchor="end" stroke="#444" stroke-width="0.25" >100</text>
<text x="10.1" y="252.3" font-family='"Liberation Sans", sans-serif' font-size="7.8" font-weight="normal" fill="#444" text-anchor="end" stroke="#444" stroke-width="0.25" >0</text>
<text x="12.2" y="258.4" font-family='"Liberation Sans", sans-serif' font-size="7.3" font-weight="normal" fill="#444" text-anchor="middle" stroke="#444" stroke-width="0.25" >2020</text>
<text x="68.2" y="258.4" font-family='"Liberation Sans", sans-serif' font-size="7.3" font-weight="normal" fill="#444" text-anchor="middle" stroke="#444" stroke-width="0.25" >2021</text>
<text x="124.2" y="258.4" font-family='"Liberation Sans", sans-serif' font-size="7.3" font-weight="normal" fill="#444" text-anchor="middle" stroke="#444" stroke-width="0.25" >2022</text>
<text x="180.2" y="258.4" font-family='"Liberation Sans", sans-serif' font-size="7.3" font-weight="normal" fill="#444" text-anchor="middle" stroke="#444" stroke-width="0.25" >2023</text>
<text x="236.2" y="258.4" font-family='"Liberation Sans", sans-serif' font-size="7.3" font-weight="normal" fill="#444" text-anchor="middle" stroke="#444" stroke-width="0.25" >2024</text>
<text x="292.2" y="258.4" font-family='"Liberation Sans", sans-serif' font-size="7.3" font-weight="normal" fill="#444" text-anchor="middle" stroke="#444" stroke-width="0.25" >2025</text>
<text x="-3.7" y="275.2" font-family='"Liberation Sans", sans-serif' font-size="7.6" font-weight="normal" fill="#333" text-anchor="start" stroke="#333" stroke-width="0.25" >Article DOI: 10.1136/bmj.r2153</text>
<text x="124.7" y="74.3" font-family='"Liberation Sans", sans-serif' font-size="7.2" font-weight="normal" fill="#333" text-anchor="end" stroke="#333" stroke-width="0.25" >Feb 2022: Russian</text>
<text x="124.7" y="83.6" font-family='"Liberation Sans", sans-serif' font-size="7.2" font-weight="normal" fill="#333" text-anchor="end" stroke="#333" stroke-width="0.25" >invasion of</text>
<text x="124.7" y="92.9" font-family='"Liberation Sans", sans-serif' font-size="7.2" font-weight="normal" fill="#333" text-anchor="end" stroke="#333" stroke-width="0.25" >Ukraine</text>
<text x="218.2" y="74.3" font-family='"Liberation Sans", sans-serif' font-size="7.2" font-weight="normal" fill="#333" text-anchor="end" stroke="#333" stroke-width="0.25" >Oct 2023: Start of</text>
<text x="218.2" y="83.6" font-family='"Liberation Sans", sans-serif' font-size="7.2" font-weight="normal" fill="#333" text-anchor="end" stroke="#333" stroke-width="0.25" >Israel-Gaza war</text>
<text x="291.2" y="149.2" font-family='"Liberation Sans", sans-serif' font-size="7.5" font-weight="bold" fill="#222" text-anchor="start" stroke="#222" stroke-width="0.2" >Total</text>
<rect x="291.2" y="7.2" width="50" height="27.8" rx="4" fill="#4a6fc0"/>
<text x="293" y="24.2" font-family='"Liberation Serif", serif' font-size="12.6" fill="#c9d5ef" font-weight="normal" letter-spacing="0.35">the</text>
<text x="309.2" y="24.2" font-family='"Liberation Serif", serif' font-size="12.6" fill="#ffffff" font-weight="bold" letter-spacing="-0.1">bmj</text>
</svg>
</body></html>
